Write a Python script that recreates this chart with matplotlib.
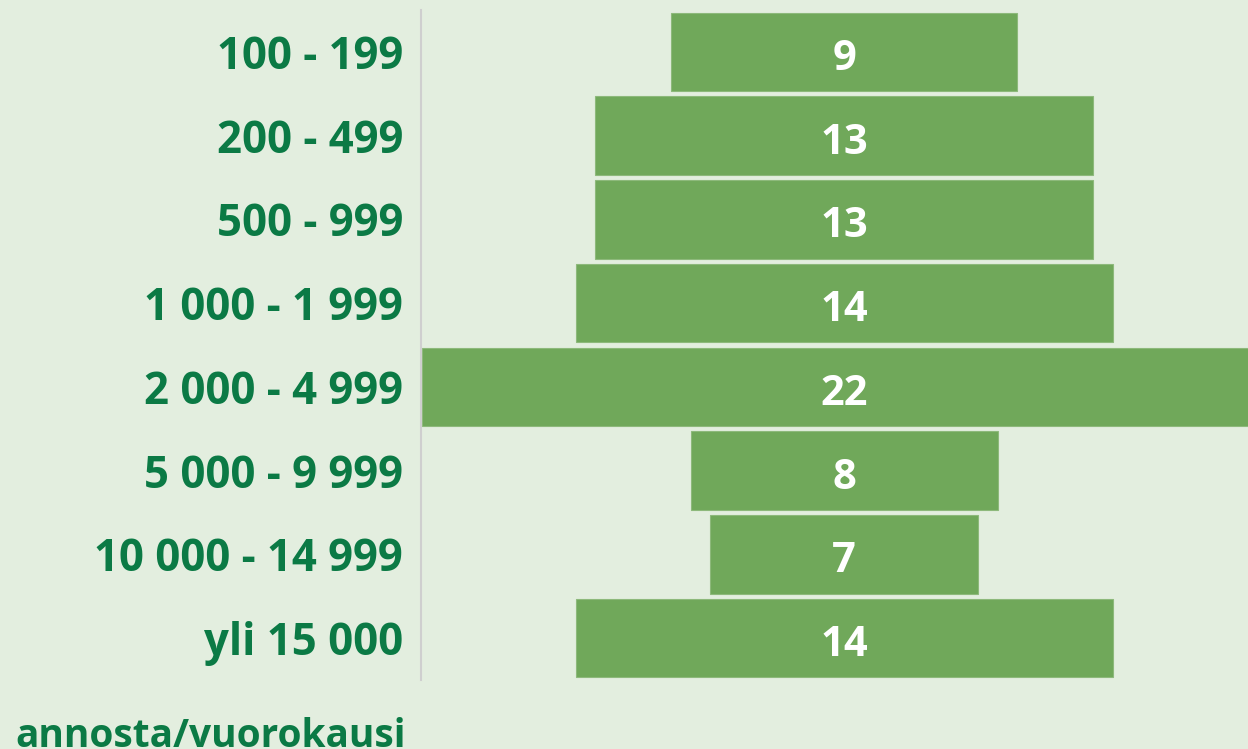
import matplotlib.pyplot as plt

categories = ["100 - 199", "200 - 499", "500 - 999", "1 000 - 1 999",
              "2 000 - 4 999", "5 000 - 9 999", "10 000 - 14 999", "yli 15 000"]
values = [9, 13, 13, 14, 22, 8, 7, 14]

bg = "#E3EEDF"
bar_color = "#70A85A"
text_color = "#0B7A45"

plt.rcParams['font.family'] = ['Open Sans', 'DejaVu Sans']

fig = plt.figure(figsize=(12.48, 7.49), dpi=100, facecolor=bg)
ax = fig.add_axes([421 / 1248, 1 - 680 / 749, 1 - 421 / 1248, 670 / 749])
ax.set_facecolor(bg)

y = list(range(len(categories)))
lefts = [-v / 2 for v in values]
ax.barh(y, values, left=lefts, height=0.935, color=bar_color,
        edgecolor="#8DB97B", linewidth=0.8)

for yi, v in zip(y, values):
    ax.text(0, yi + 0.09, str(v), ha="center", va="center", color="white",
            fontsize=30, fontweight="bold")

ax.set_xlim(-11.03, 10.53)
ax.set_ylim(len(categories) - 0.5, -0.5)
ax.set_yticks(y)
ax.set_yticklabels(categories, fontsize=31.5, fontweight="bold", color=text_color,
                   va="center_baseline")
ax.tick_params(axis="y", length=0, pad=13)
ax.set_xticks([])

for s in ["top", "right", "bottom"]:
    ax.spines[s].set_visible(False)
ax.spines["left"].set_color("#CFCFCF")
ax.spines["left"].set_linewidth(1.5)

fig.text(15 / 1248, 1 - 747 / 749, "annosta/vuorokausi", ha="left", va="baseline",
         fontsize=28, fontweight="bold", color=text_color)

fig.savefig("out.png", dpi=100, facecolor=bg)
